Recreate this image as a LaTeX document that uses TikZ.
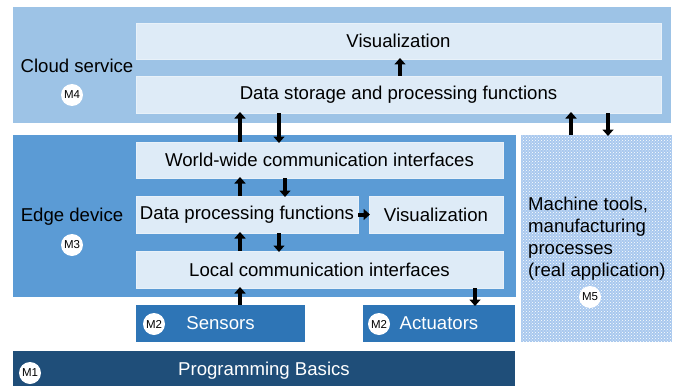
\documentclass[tikz,border=0pt]{standalone}
\usepackage{fontspec}
\setmainfont{Liberation Sans}
\usetikzlibrary{arrows.meta,patterns}
\definecolor{cloudc}{HTML}{9DC3E6}
\definecolor{innerc}{HTML}{DEEBF7}
\definecolor{edgec}{HTML}{5B9BD5}
\definecolor{sensc}{HTML}{2E75B6}
\definecolor{progc}{HTML}{1F4E79}
\definecolor{machc}{HTML}{A8C8EE}
\tikzset{
  area/.style={inner sep=0pt, outer sep=0pt, anchor=north west},
  inner/.style={fill=innerc, draw=innerc!70!white, line width=0.6pt, inner sep=0pt, outer sep=0pt, anchor=north west, font=\fontsize{18.6}{22}\selectfont},
  lbl/.style={font=\fontsize{18.6}{22}\selectfont, inner sep=0pt},
  badge/.style={circle, fill=white, minimum size=22pt, inner sep=0pt, font=\fontsize{11.5}{12}\selectfont},
  arr/.style={line width=4pt, -{Triangle[length=6.5pt,width=11pt]}, shorten >=-1pt},
}
\begin{document}
\begin{tikzpicture}[x=1pt,y=-1pt]
\useasboundingbox (0,0) rectangle (676,385);
% Cloud
\node[area, fill=cloudc, minimum width=658pt, minimum height=116pt] (cloud) at (13,7) {};
\node[inner, minimum width=525pt, minimum height=36pt] (cvis) at (136,23) {Visualization};
\node[inner, minimum width=525pt, minimum height=37pt] (store) at (136,76) {Data storage and processing functions};
\node[lbl] (cloudlbl) at (77,66) {Cloud service};
\node[badge] (m4) at (72,95) {M4};
% Edge
\node[area, fill=edgec, minimum width=503pt, minimum height=162pt] (edge) at (13,135) {};
\node[inner, minimum width=367pt, minimum height=36pt] (ww) at (136,142) {World-wide communication interfaces};
\node[inner, minimum width=222pt, minimum height=37pt] (dp) at (136,196) {Data processing functions};
\node[inner, minimum width=134pt, minimum height=37pt] (evis) at (369,196) {Visualization};
\node[inner, minimum width=367pt, minimum height=37pt] (loc) at (136,251) {Local communication interfaces};
\node[lbl] (edgelbl) at (72,217) {Edge device};
\node[badge] (m3) at (72,245) {M3};
% Machine tools
\node[area, fill=machc, minimum width=151pt, minimum height=207pt] (mach) at (521,135) {};
\fill[pattern=crosshatch dots, pattern color=white] (mach.north west) rectangle (mach.south east);
\node[lbl, align=left, anchor=west] (machlbl) at (528,239) {Machine tools,\\manufacturing\\processes\\(real application)};
\node[badge] (m5) at (590,297) {M5};
% Sensors / actuators
\node[area, fill=sensc, minimum width=169pt, minimum height=37pt] (sens) at (136,305) {};
\node[lbl, text=white] (senslbl) at (sens.center) {Sensors};
\node[badge] (m2a) at (154,324) {M2};
\node[area, fill=sensc, minimum width=152pt, minimum height=37pt] (act) at (363,305) {};
\node[lbl, text=white] (actlbl) at (act.center) {Actuators};
\node[badge] (m2b) at (379,324) {M2};
% Programming basics
\node[area, fill=progc, minimum width=502pt, minimum height=40pt] (prog) at (13,351) {};
\node[lbl, text=white] (proglbl) at (264,371) {Programming Basics};
\node[badge] (m1) at (30,373) {M1};
% Arrows
\draw[arr] (store.north -| 400,0) -- (cvis.south -| 400,0);
\draw[arr] (ww.north -| 240,0) -- (store.south -| 240,0);
\draw[arr] (store.south -| 279,0) -- (ww.north -| 279,0);
\draw[arr] (mach.north -| 571,0) -- (store.south -| 571,0);
\draw[arr] (store.south -| 608,0) -- (mach.north -| 608,0);
\draw[arr] (dp.north -| 240,0) -- (ww.south -| 240,0);
\draw[arr] (ww.south -| 285,0) -- (dp.north -| 285,0);
\draw[arr] (loc.north -| 240,0) -- (dp.south -| 240,0);
\draw[arr] (dp.south -| 279,0) -- (loc.north -| 279,0);
\draw[arr] (dp.east) -- (evis.west);
\draw[arr] (sens.north -| 240,0) -- (loc.south -| 240,0);
\draw[arr] (loc.south -| 475,0) -- (act.north -| 475,0);
\end{tikzpicture}
\end{document}
